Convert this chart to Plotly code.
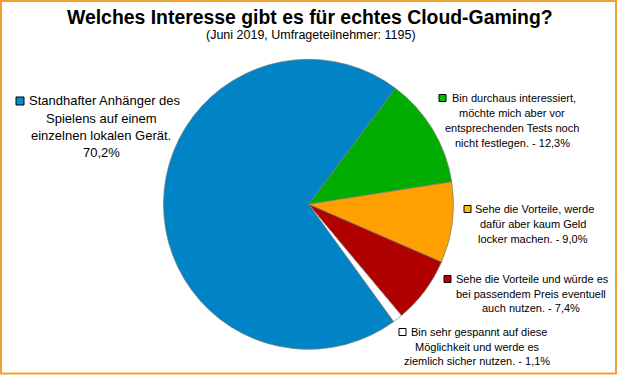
import plotly.graph_objects as go

W, H = 620, 375

# Data (clockwise from the green slice)
categories = [
    "Bin durchaus interessiert, möchte mich aber vor entsprechenden Tests noch nicht festlegen.",
    "Sehe die Vorteile, werde dafür aber kaum Geld locker machen.",
    "Sehe die Vorteile und würde es bei passendem Preis eventuell auch nutzen.",
    "Bin sehr gespannt auf diese Möglichkeit und werde es ziemlich sicher nutzen.",
    "Standhafter Anhänger des Spielens auf einem einzelnen lokalen Gerät.",
]
values = [12.3, 9.0, 7.4, 1.1, 70.2]
slice_colors = ["#00ad00", "#ffa000", "#b00000", "#ffffff", "#0084c6"]
key_colors = ["#00c000", "#ffc000", "#c00000", "#ffffff", "#0090d0"]

# label lines
label_lines = [
    ["Bin durchaus interessiert,", "möchte mich aber vor", "entsprechenden Tests noch", "nicht festlegen. - 12,3%"],
    ["Sehe die Vorteile, werde", "dafür aber kaum Geld", "locker machen. - 9,0%"],
    ["Sehe die Vorteile und würde es", "bei passendem Preis eventuell", "auch nutzen. - 7,4%"],
    ["Bin sehr gespannt auf diese", "Möglichkeit und werde es", "ziemlich sicher nutzen. - 1,1%"],
    ["Standhafter Anhänger des", "Spielens auf einem", "einzelnen lokalen Gerät.", "70,2%"],
]

# label layout in pixels: (square x0, first-line y, first-line left x, center x, line spacing, font size, square size)
label_pos = [
    (439, 98, 450, 512, 15, 11, 7),
    (464, 209, 473, 533, 15, 11, 7),
    (444, 279, 454, 531, 14.5, 11, 7),
    (399, 332, 409, 477, 14.5, 11, 7),
    (16, 101, 27, 101, 17, 13, 8),
]

def px(x):
    return x / W

def py(y):
    return 1 - y / H

cx, cy, r = 308.5, 204.3, 145

fig = go.Figure(go.Pie(
    values=values,
    labels=categories,
    sort=False,
    direction="clockwise",
    rotation=36.8,
    marker=dict(colors=slice_colors, line=dict(color="#7a7a7a", width=0.7)),
    textinfo="none",
    hoverinfo="none",
    showlegend=False,
    domain=dict(x=[px(cx - r), px(cx + r)], y=[py(cy + r), py(cy - r)]),
))

annotations = []
shapes = []
font_family = "Liberation Sans, Arial, sans-serif"

for lines, (sqx, y0, lx, ccx, sp, fs, sq), kc in zip(label_lines, label_pos, key_colors):
    shapes.append(dict(
        type="rect", xref="paper", yref="paper",
        x0=px(sqx), x1=px(sqx + sq), y0=py(y0 + sq / 2), y1=py(y0 - sq / 2),
        fillcolor=kc, line=dict(color="#000000", width=1),
    ))
    for i, t in enumerate(lines):
        y = y0 + i * sp
        if i == 0:
            annotations.append(dict(
                x=px(lx), y=py(y), xref="paper", yref="paper", text=t,
                xanchor="left", yanchor="middle", showarrow=False,
                font=dict(family=font_family, size=fs, color="#000000"),
            ))
        else:
            annotations.append(dict(
                x=px(ccx), y=py(y), xref="paper", yref="paper", text=t,
                xanchor="center", yanchor="middle", showarrow=False,
                font=dict(family=font_family, size=fs, color="#000000"),
            ))

# title & subtitle
annotations.append(dict(
    x=px(310), y=py(17), xref="paper", yref="paper",
    text="<b>Welches Interesse gibt es für echtes Cloud-Gaming?</b>",
    xanchor="center", yanchor="middle", showarrow=False,
    font=dict(family=font_family, size=19.4, color="#000000"),
))
annotations.append(dict(
    x=px(311), y=py(35), xref="paper", yref="paper",
    text="(Juni 2019, Umfrageteilnehmer: 1195)",
    xanchor="center", yanchor="middle", showarrow=False,
    font=dict(family=font_family, size=12.5, color="#000000"),
))

# orange frame
shapes.append(dict(
    type="rect", xref="paper", yref="paper",
    x0=px(1), x1=px(616), y0=py(373.5), y1=py(1),
    line=dict(color="#F0A030", width=2), fillcolor="rgba(0,0,0,0)",
))

fig.update_layout(
    width=W, height=H,
    margin=dict(l=0, r=0, t=0, b=0),
    paper_bgcolor="#ffffff",
    plot_bgcolor="#ffffff",
    annotations=annotations,
    shapes=shapes,
)

fig.write_html(
    "out.html",
    config={"displayModeBar": False},
    post_script="document.body.style.margin='0';document.body.style.overflow='hidden';",
)
